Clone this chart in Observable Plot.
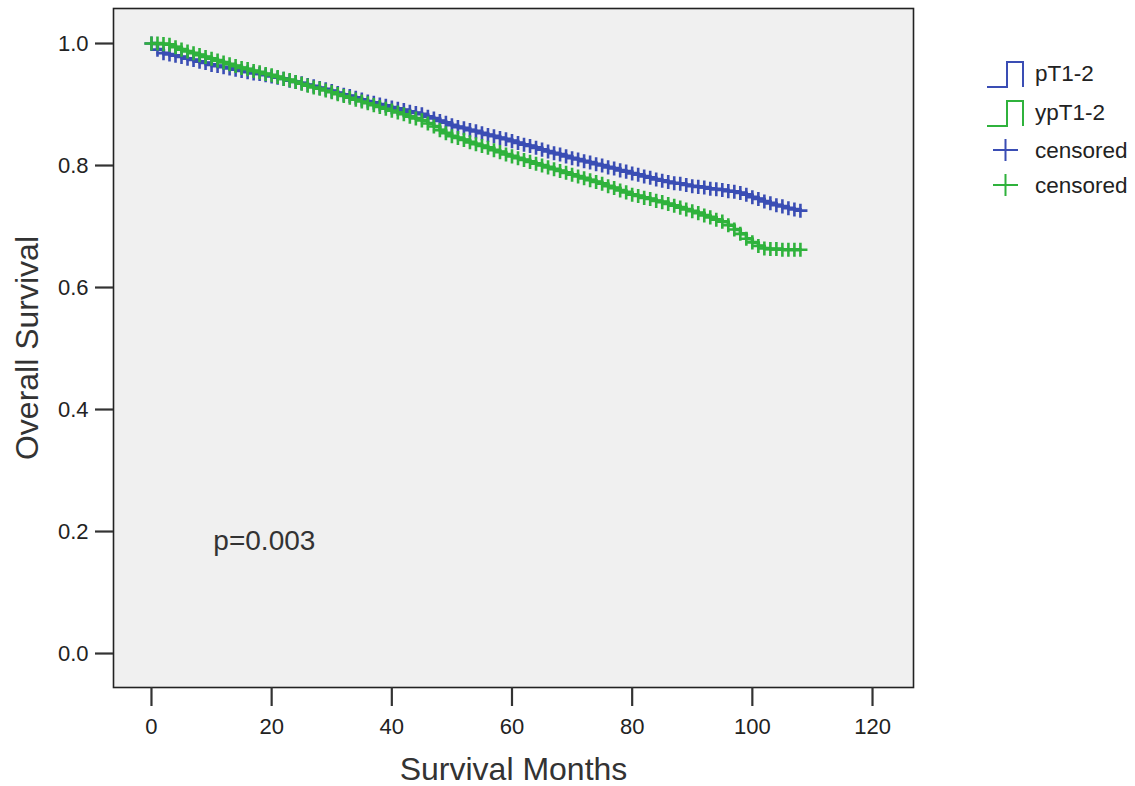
<!DOCTYPE html>
<html><head><meta charset="utf-8">
<script src="https://cdn.jsdelivr.net/npm/d3@7"></script>
<script src="https://cdn.jsdelivr.net/npm/@observablehq/plot@0.6"></script>
<style>
body{margin:0;background:#fff;font-family:"Liberation Sans",Arial,sans-serif}
#wrap{position:relative;width:1135px;height:786px}
#legend{position:absolute;left:0;top:0}
</style>
</head><body><div id="wrap"></div>
<script>
const months = [0,1,2,3,4,5,6,7,8,9,10,11,12,13,14,15,16,17,18,19,20,21,22,23,24,25,26,27,28,29,30,31,32,33,34,35,36,37,38,39,40,41,42,43,44,45,46,47,48,49,50,51,52,53,54,55,56,57,58,59,60,61,62,63,64,65,66,67,68,69,70,71,72,73,74,75,76,77,78,79,80,81,82,83,84,85,86,87,88,89,90,91,92,93,94,95,96,97,98,99,100,101,102,103,104,105,106,107,108];
const pT12 = [1.000,0.990,0.984,0.982,0.980,0.978,0.975,0.973,0.970,0.968,0.965,0.963,0.961,0.959,0.957,0.955,0.953,0.951,0.950,0.948,0.946,0.944,0.942,0.939,0.937,0.935,0.932,0.930,0.927,0.925,0.922,0.919,0.916,0.914,0.911,0.908,0.905,0.903,0.900,0.898,0.895,0.893,0.891,0.888,0.886,0.884,0.880,0.877,0.873,0.870,0.866,0.863,0.861,0.858,0.856,0.853,0.850,0.848,0.845,0.843,0.840,0.837,0.834,0.832,0.829,0.826,0.823,0.820,0.818,0.815,0.812,0.810,0.807,0.805,0.802,0.800,0.797,0.795,0.792,0.790,0.787,0.785,0.782,0.780,0.777,0.775,0.773,0.771,0.770,0.768,0.766,0.765,0.764,0.762,0.761,0.760,0.758,0.757,0.755,0.752,0.748,0.745,0.741,0.738,0.735,0.733,0.730,0.728,0.726];
const ypT12 = [1.000,1.000,0.999,0.998,0.994,0.990,0.987,0.984,0.981,0.978,0.975,0.972,0.969,0.966,0.963,0.960,0.958,0.955,0.953,0.950,0.948,0.945,0.942,0.940,0.937,0.934,0.931,0.928,0.926,0.923,0.920,0.917,0.914,0.911,0.908,0.905,0.902,0.899,0.896,0.893,0.890,0.887,0.884,0.880,0.877,0.874,0.869,0.864,0.858,0.853,0.848,0.845,0.842,0.838,0.835,0.832,0.829,0.825,0.822,0.818,0.815,0.812,0.809,0.806,0.803,0.800,0.797,0.794,0.791,0.788,0.785,0.782,0.779,0.776,0.773,0.770,0.766,0.763,0.759,0.756,0.752,0.750,0.747,0.745,0.742,0.740,0.737,0.734,0.731,0.728,0.725,0.722,0.718,0.715,0.711,0.708,0.702,0.695,0.688,0.680,0.674,0.668,0.664,0.663,0.663,0.662,0.662,0.662,0.662];
const groups = ["pT1-2","ypT1-2"];
const colors = ["#3a4db4","#2fb23c"];
const xTicks = [0,20,40,60,80,100,120];
const yTicks = [0,0.2,0.4,0.6,0.8,1.0];
const pValue = [{month:10.3, survival:0.184, text:"p=0.003"}];
const xTitle = "Survival Months";
const yTitle = "Overall Survival";
const legendItems = [
  {label:"pT1-2", kind:"step", color:colors[0]},
  {label:"ypT1-2", kind:"step", color:colors[1]},
  {label:"censored", kind:"plus", color:colors[0]},
  {label:"censored", kind:"plus", color:colors[1]}
];

const rows = [];
groups.forEach((g, gi) => {
  const vals = gi === 0 ? pT12 : ypT12;
  months.forEach((m, i) => rows.push({group:g, month:m, s:vals[i]}));
});

const chart = Plot.plot({
  width:1135, height:786,
  marginTop:8, marginBottom:99, marginLeft:113, marginRight:222,
  x:{domain:[-6.32,126.82]},
  y:{domain:[-0.0557,1.0574]},
  color:{domain:groups, range:colors},
  style:{fontFamily:"Liberation Sans, Arial, sans-serif", background:"transparent", color:"#222"},
  marks:[
    Plot.frame({fill:"#f0f0f0"}),
    Plot.line(rows,{x:"month", y:"s", z:"group", stroke:"group", curve:"step-after", strokeWidth:3.5}),
    Plot.dot(rows,{x:"month", y:"s", stroke:"group", symbol:"plus", r:4.6, strokeWidth:2.6}),
    Plot.frame({stroke:"#222", strokeWidth:1.6}),
    Plot.axisX({ticks:xTicks, tickSize:19, tickPadding:12, fontSize:22, stroke:"#333", strokeWidth:2.2, label:null}),
    Plot.axisY({ticks:yTicks, tickFormat:d=>d.toFixed(1), tickSize:18, tickPadding:7, fontSize:22, stroke:"#333", strokeWidth:2.2, label:null}),
    Plot.text(pValue,{x:"month", y:"survival", text:"text", textAnchor:"start", lineAnchor:"middle", fontSize:28, fill:"#333"}),
    Plot.text([xTitle],{frameAnchor:"bottom", dy:82, textAnchor:"middle", lineAnchor:"middle", fontSize:32, fill:"#333"}),
    Plot.text([yTitle],{frameAnchor:"left", dx:-86, rotate:-90, textAnchor:"middle", lineAnchor:"middle", fontSize:32, fill:"#333"})
  ]
});
document.getElementById("wrap").appendChild(chart);

// legend
const svg = d3.select("#wrap").append("svg").attr("id","legend").attr("width",1135).attr("height",786);
const rowsY = [73, 112, 150, 185];
legendItems.forEach((it, i) => {
  const cy = rowsY[i];
  const g = svg.append("g");
  if (it.kind === "step") {
    g.append("path").attr("d", `M987,${cy+14} H1007 V${cy-11} H1023 V${cy+14}`)
      .attr("fill","none").attr("stroke", it.color).attr("stroke-width", 2);
  } else {
    g.append("path").attr("d", `M993,${cy} H1018 M1005.5,${cy-11} V${cy+11}`)
      .attr("fill","none").attr("stroke", it.color).attr("stroke-width", 2);
  }
  g.append("text").attr("x", 1035).attr("y", cy).attr("dy","0.35em")
    .attr("font-size", 22.5).attr("fill","#222").attr("font-family","Liberation Sans, Arial, sans-serif")
    .text(it.label);
});
</script>
</body></html>
